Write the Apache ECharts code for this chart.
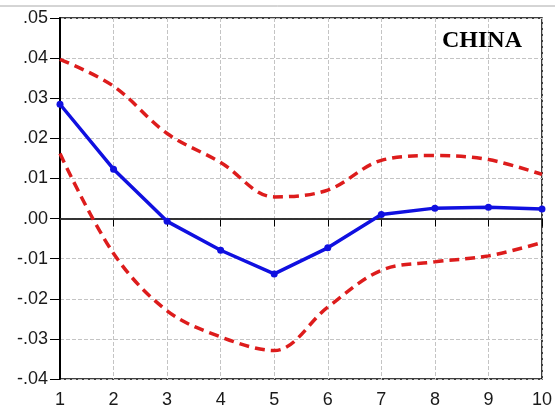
<!DOCTYPE html>
<html><head><meta charset="utf-8">
<script src="https://cdn.jsdelivr.net/npm/echarts@6/dist/echarts.min.js"></script>
<style>html,body{margin:0;padding:0;background:#fff}#c{width:555px;height:414px}</style>
</head><body><div id="c"></div>
<script>
const periods = [1,2,3,4,5,6,7,8,9,10];
const response = [0.0285,0.0123,-0.0007,-0.0079,-0.0138,-0.0073,0.0010,0.0026,0.0028,0.0024];
const upperBand = [0.0397,0.0330,0.0212,0.0140,0.0054,0.0071,0.0145,0.0157,0.0147,0.0110];
const lowerBand = [0.0162,-0.0087,-0.0230,-0.0295,-0.0329,-0.0221,-0.0129,-0.0108,-0.0093,-0.0060];
const yTicks = [-0.04,-0.03,-0.02,-0.01,0,0.01,0.02,0.03,0.04,0.05];
const panelTitle = 'CHINA';

const chart = echarts.init(document.getElementById('c'));
const pair = arr => periods.map((p,i)=>[p,arr[i]]);
const fmt = v => { const s = Math.abs(v).toFixed(2).replace(/^0/,''); return (v < -1e-9 ? '-' : '') + s; };
const font = 'Arial, Liberation Sans, sans-serif';
chart.setOption({
  animation:false,
  backgroundColor:'#fff',
  grid:{left:60,right:12,top:18,bottom:35,show:true,borderColor:'#000',borderWidth:1.5,containLabel:false},
  title:{text:panelTitle,right:33,top:29,padding:0,textStyle:{fontFamily:'Liberation Serif, Times New Roman, serif',fontWeight:'bold',fontSize:24,color:'#000'}},
  xAxis:{type:'value',min:1,max:10,interval:1,
    axisLine:{lineStyle:{color:'#000',width:1.5}},
    axisTick:{show:true,length:8,lineStyle:{color:'#000'}},
    axisLabel:{color:'#1a1a1a',fontSize:18,fontFamily:font,margin:12},
    splitLine:{show:true,lineStyle:{color:'#c4c4c4',type:'dashed',width:1}}},
  yAxis:{type:'value',min:yTicks[0],max:yTicks[yTicks.length-1],interval:0.01,
    axisLine:{show:true,lineStyle:{color:'#000',width:2}},
    axisTick:{show:true,length:10,lineStyle:{color:'#000'}},
    axisLabel:{color:'#1a1a1a',fontSize:18,fontFamily:font,margin:12,formatter:fmt},
    splitLine:{show:true,lineStyle:{color:'#c4c4c4',type:'dashed',width:1}}},
  graphic:[{type:'line',shape:{x1:0,y1:6,x2:555,y2:6},style:{stroke:'#aaa',lineWidth:1}}],
  series:[
    {type:'line',data:pair(upperBand),smooth:0.35,symbol:'none',lineStyle:{color:'#dd1c1c',width:3.5,type:[10,6]},z:3},
    {type:'line',data:pair(lowerBand),smooth:0.35,symbol:'none',lineStyle:{color:'#dd1c1c',width:3.5,type:[10,6]},z:3},
    {type:'line',data:pair(response),smooth:false,symbol:'circle',symbolSize:7,
      itemStyle:{color:'#1010e0'},lineStyle:{color:'#1010e0',width:3.5},z:4,
      markLine:{silent:true,symbol:'none',label:{show:false},lineStyle:{color:'#333',type:'solid',width:1.5},data:[{yAxis:0}],z:2}}
  ]
});
</script></body></html>
